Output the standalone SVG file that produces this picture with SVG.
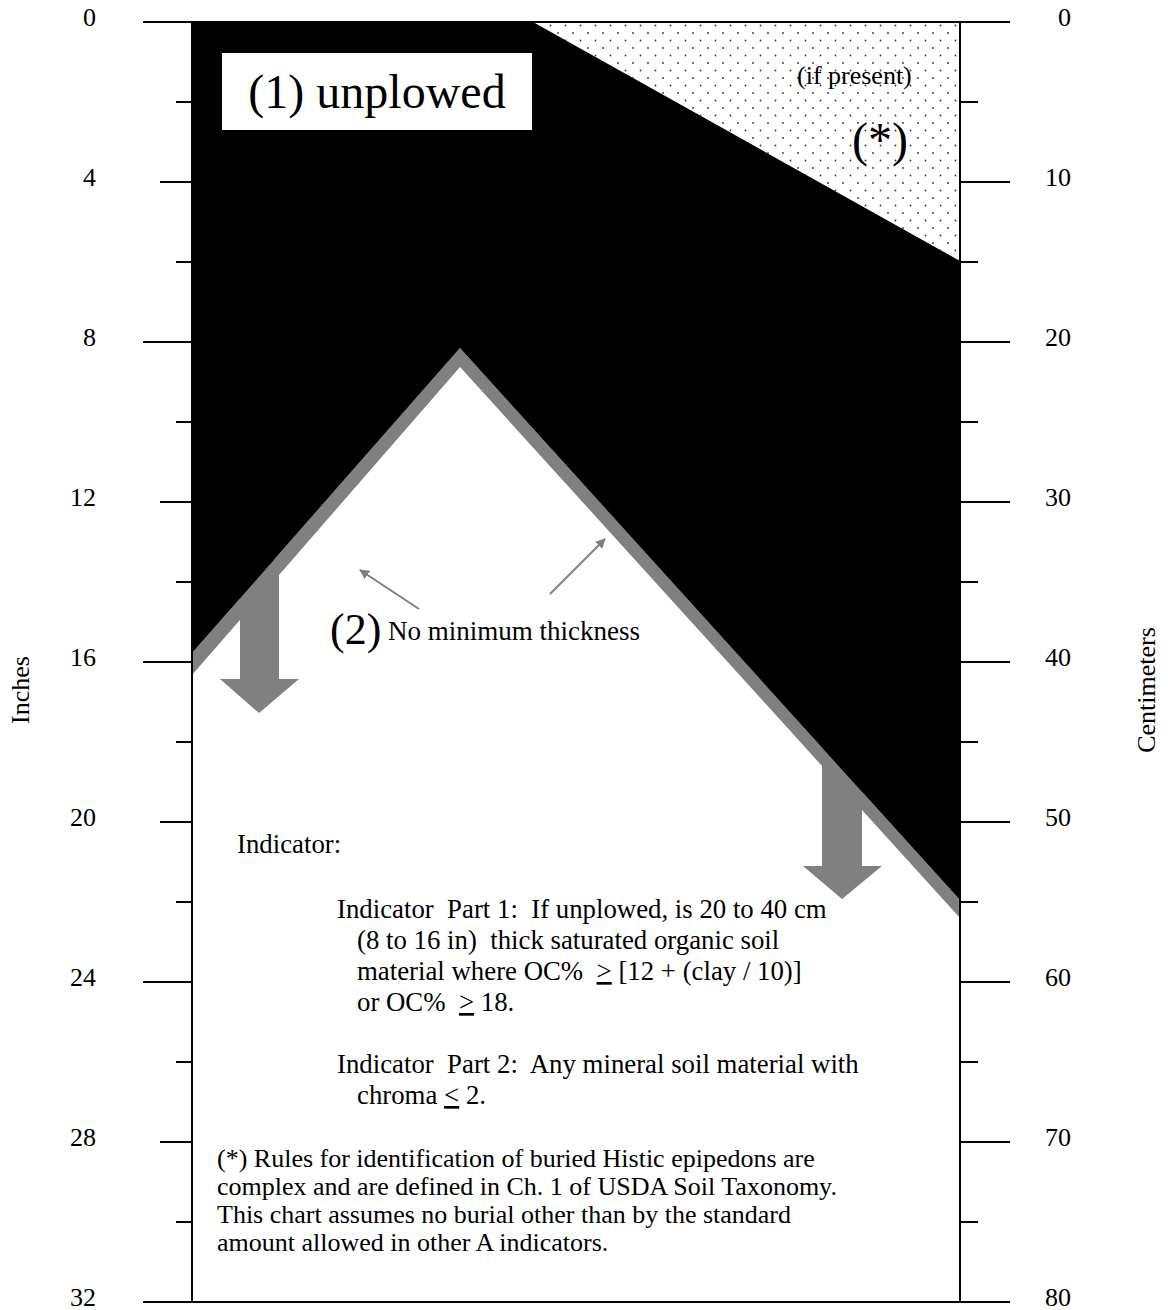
<svg xmlns="http://www.w3.org/2000/svg" width="1168" height="1310" viewBox="0 0 1168 1310">
<style>
text{font-family:"Liberation Serif","Times New Roman",serif;fill:#000;white-space:pre}
.t{font-size:26px}
.ti{font-size:26.8px}
.lbl{font-size:26px}
.l{text-anchor:end}
.big{font-size:48px}
.ax{stroke:#000;stroke-width:2;fill:none}
.gray{fill:#808080}
.thin{stroke:#808080;stroke-width:2;fill:none}
</style>
<defs>
<pattern id="dots" width="15" height="15" patternUnits="userSpaceOnUse">
<circle cx="3" cy="3" r="0.9" fill="#333"/>
<circle cx="10.5" cy="10.5" r="0.9" fill="#333"/>
</pattern>
<marker id="ah" viewBox="0 0 10 10" refX="9" refY="5" markerWidth="5" markerHeight="5" orient="auto" markerUnits="strokeWidth">
<path d="M0,0 L10,5 L0,10 z" fill="#808080"/>
</marker>
</defs>
<rect width="1168" height="1310" fill="#fff"/>
<g id="present-zone">
<polygon points="533,22 960,22 960,261" fill="url(#dots)"/>
<text class="t" x="797" y="84">(if present)</text>
<text class="big" x="852" y="156">(*)</text>
</g>
<g id="band">
<polygon class="gray" points="192,653 460,348 960,900 960,918 460,367 192,675"/>
</g>
<g id="arrow-left">
<polygon class="gray" points="240,560 279,560 279,679 299,679 259,713 220,679 240,679"/>
</g>
<g id="arrow-right">
<polygon class="gray" points="822,740 862,740 862,866 882,866 842,899 803,866 822,866"/>
</g>
<g id="histic">
<polygon fill="#000" points="192,22 533,22 960,261 960,900 460,348 192,653"/>
</g>
<g id="unplowed">
<rect x="222" y="53" width="310" height="77" fill="#fff"/>
<text class="big" x="377" y="108" text-anchor="middle">(1) unplowed</text>
</g>
<g id="connectors">
<line class="thin" x1="419" y1="609" x2="360" y2="570" marker-end="url(#ah)"/>
<line class="thin" x1="550" y1="594" x2="605" y2="539" marker-end="url(#ah)"/>
</g>
<g id="no-min">
<text x="330" y="644" style="font-size:44px">(2)</text>
<text x="388" y="640" style="font-size:27px">No minimum thickness</text>
</g>
<g id="axes">
<line class="ax" x1="192" y1="22" x2="192" y2="1302"/>
<line class="ax" x1="960" y1="22" x2="960" y2="1302"/>
<line class="ax" x1="143" y1="22" x2="1010" y2="22"/>
<line class="ax" x1="143" y1="1302" x2="1010" y2="1302"/>
<path class="ax" d="M176,102H192M160,182H192M176,262H192M143,342H192M176,422H192M160,502H192M176,582H192M143,662H192M176,742H192M160,822H192M176,902H192M143,982H192M176,1062H192M160,1142H192M176,1222H192"/>
<path class="ax" d="M960,102H978M960,182H1010M960,262H978M960,342H1010M960,422H978M960,502H1010M960,582H978M960,662H1010M960,742H978M960,822H1010M960,902H978M960,982H1010M960,1062H978M960,1142H1010M960,1222H978"/>
</g>
<g id="inch-labels" class="lbl">
<text class="l" x="96" y="26">0</text>
<text class="l" x="96" y="186">4</text>
<text class="l" x="96" y="346">8</text>
<text class="l" x="96" y="506">12</text>
<text class="l" x="96" y="666">16</text>
<text class="l" x="96" y="826">20</text>
<text class="l" x="96" y="986">24</text>
<text class="l" x="96" y="1146">28</text>
<text class="l" x="96" y="1306">32</text>
<text class="lbl" transform="translate(29,690) rotate(-90)" text-anchor="middle">Inches</text>
</g>
<g id="cm-labels" class="lbl">
<text class="l" x="1071" y="26">0</text>
<text class="l" x="1071" y="186">10</text>
<text class="l" x="1071" y="346">20</text>
<text class="l" x="1071" y="506">30</text>
<text class="l" x="1071" y="666">40</text>
<text class="l" x="1071" y="826">50</text>
<text class="l" x="1071" y="986">60</text>
<text class="l" x="1071" y="1146">70</text>
<text class="l" x="1071" y="1306">80</text>
<text class="lbl" transform="translate(1155,690) rotate(-90)" text-anchor="middle">Centimeters</text>
</g>
<g id="indicator-text">
<text class="ti" x="237" y="853">Indicator:</text>
<text class="ti" x="337" y="918">Indicator  Part 1:  If unplowed, is 20 to 40 cm</text>
<text class="ti" x="357" y="949">(8 to 16 in)  thick saturated organic soil</text>
<text class="ti" x="357" y="980">material where OC%  <tspan text-decoration="underline">&gt;</tspan> [12 + (clay / 10)]</text>
<text class="ti" x="357" y="1011">or OC%  <tspan text-decoration="underline">&gt;</tspan> 18.</text>
<text class="ti" x="337" y="1073">Indicator  Part 2:  Any mineral soil material with</text>
<text class="ti" x="357" y="1104">chroma <tspan text-decoration="underline">&lt;</tspan> 2.</text>
</g>
<g id="note-text">
<text class="t" x="217" y="1167">(*) Rules for identification of buried Histic epipedons are</text>
<text class="t" x="217" y="1195">complex and are defined in Ch. 1 of USDA Soil Taxonomy.</text>
<text class="t" x="217" y="1223">This chart assumes no burial other than by the standard</text>
<text class="t" x="217" y="1251">amount allowed in other A indicators.</text>
</g>
</svg>
